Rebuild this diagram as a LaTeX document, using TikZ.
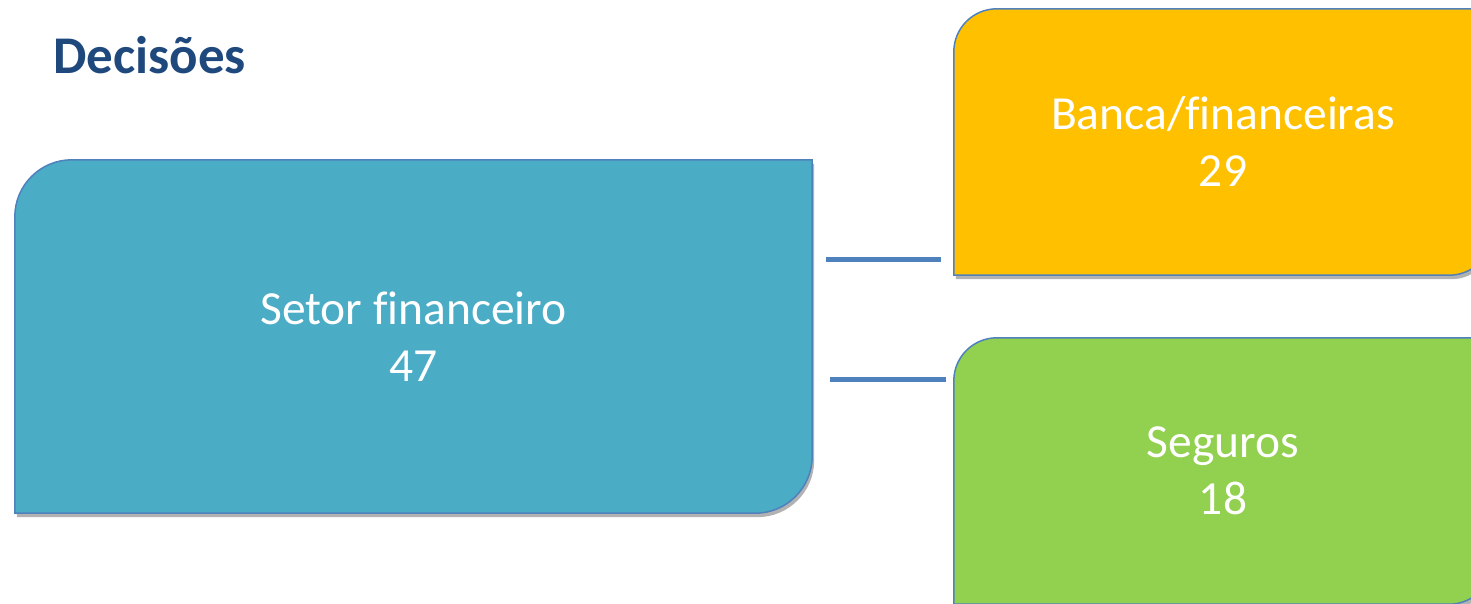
\documentclass[tikz,border=0pt]{standalone}
\usepackage{fontspec}
\setmainfont{Carlito}[Ligatures=NoCommon]
\usepackage{tikz}
\usetikzlibrary{backgrounds, shadows}
\usepackage{xcolor}

\definecolor{setorblue}{HTML}{4BACC6}
\definecolor{bancaorange}{HTML}{FFC000}
\definecolor{segurosgreen}{HTML}{92D050}
\definecolor{edgeblue}{HTML}{4F81BD}
\definecolor{titleblue}{HTML}{1F497D}

\begin{document}
\begin{tikzpicture}[
    x=1pt, y=-1pt,
    every node/.style={font=\fontsize{47.5}{57}\selectfont, align=center},
    block/.style={rectangle, inner sep=0pt, text=white},
    outline/.style={draw=edgeblue, line width=1.5pt,
        drop shadow={shadow xshift=2pt, shadow yshift=-4pt, opacity=.3, fill=black}},
    link/.style={draw=edgeblue, line width=5pt}
]
    \useasboundingbox (0,0) rectangle (1471,603);

    \node[font=\bfseries\fontsize{53}{63}\selectfont, text=titleblue, anchor=west, inner sep=0pt]
        (titulo) at (53,55) {Decisões};

    \node[block, minimum width=797pt, minimum height=353pt] (setor) at (413.5,336.5)
        {Setor financeiro\\47};
    \node[block, minimum width=538pt, minimum height=266pt] (banca) at (1223,142)
        {Banca/financeiras\\29};
    \node[block, minimum width=538pt, minimum height=266pt] (seguros) at (1223,471)
        {Seguros\\18};

    % rounded at two opposite corners
    \begin{scope}[on background layer]
        \path[outline, fill=setorblue] (setor.south west) [rounded corners=57pt] -- (setor.north west)
            [sharp corners] -- (setor.north east) [rounded corners=57pt] -- (setor.south east)
            [sharp corners] -- cycle;
        \path[outline, fill=bancaorange] (banca.south west) [rounded corners=43pt] -- (banca.north west)
            [sharp corners] -- (banca.north east) [rounded corners=43pt] -- (banca.south east)
            [sharp corners] -- cycle;
        \path[outline, fill=segurosgreen] (seguros.south west) [rounded corners=43pt] -- (seguros.north west)
            [sharp corners] -- (seguros.north east) [rounded corners=43pt] -- (seguros.south east)
            [sharp corners] -- cycle;
    \end{scope}

    \coordinate (s1) at (826,259);
    \coordinate (b1) at (941,259);
    \coordinate (s2) at (830,379);
    \coordinate (g1) at (946,379);

    \draw[link] (s1) -- (b1);
    \draw[link] (s2) -- (g1);
\end{tikzpicture}
\end{document}
